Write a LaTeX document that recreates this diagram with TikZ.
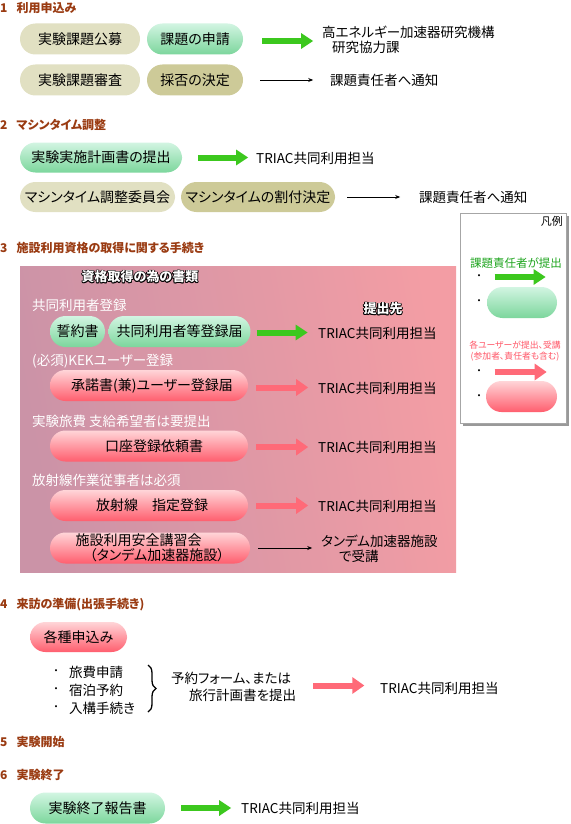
\documentclass[tikz,border=0pt]{standalone}
\usepackage{fontspec}
\setmainfont{Noto Sans CJK JP}[RawFeature=+palt]
\usetikzlibrary{arrows.meta,decorations.pathreplacing}
\definecolor{hbrown}{HTML}{9A3B12}
\definecolor{beige}{HTML}{E1E0C2}
\definecolor{olive}{HTML}{CDCA98}
\definecolor{gtop}{HTML}{D2F5E2}
\definecolor{gbot}{HTML}{7CD69C}
\definecolor{rtop}{HTML}{FFD5D8}
\definecolor{rbot}{HTML}{FF5E6E}
\definecolor{garrow}{HTML}{3CC81E}
\definecolor{rarrow}{HTML}{FF6A78}
\definecolor{pinkL}{HTML}{CB93A7}
\definecolor{pinkR}{HTML}{F39DA4}
\definecolor{leggreen}{HTML}{1FA51F}
\definecolor{legred}{HTML}{FF5566}
\newcommand{\outltxt}[3]{%
  \foreach \dx/\dy in {-0.8/0,0.8/0,0/-0.8,0/0.8,-0.6/-0.6,0.6/0.6,-0.6/0.6,0.6/-0.6}
    \node[outlab, text=black, xshift=\dx pt, yshift=\dy pt] at (#2) {#3};
  \node[outlab, text=white] (#1) at (#2) {#3};}
\begin{document}
\begin{tikzpicture}[x=1pt,y=-1pt,
 head/.style={anchor=west, inner sep=0pt, text=hbrown, font=\fontsize{12}{14}\selectfont\bfseries},
 txt/.style={anchor=west, inner sep=0pt, font=\fontsize{13.5}{15}\selectfont, align=left},
 wlab/.style={txt, text=white},
 pill/.style={rounded corners=15.5pt, minimum height=31pt, inner sep=0pt, font=\fontsize{14}{14}\selectfont, align=center},
 beigepill/.style={pill, fill=beige},
 olivepill/.style={pill, fill=olive},
 greenpill/.style={pill, top color=gtop, bottom color=gbot},
 redpill/.style={pill, top color=rtop, bottom color=rbot},
 garr/.style={draw=garrow, line width=6pt, -{Triangle[length=12pt,width=15pt]}},
 rarr/.style={draw=rarrow, line width=6pt, -{Triangle[length=12pt,width=16pt]}},
 karr/.style={draw=black, line width=0.8pt, -{Stealth[length=5pt,width=4pt]}},
 outlab/.style={inner sep=0pt, font=\fontsize{13}{15}\selectfont\bfseries},
 bul/.style={inner sep=0pt, font=\fontsize{10}{12}\selectfont},
]
\useasboundingbox (0,0) rectangle (570,824);
\fill[white] (0,0) rectangle (570,824);

% ---------- Section 1
\node[head] (h1) at (0,8) {1\hspace{9pt}利用申込み};
\node[beigepill, minimum width=120pt] (p11) at (80,39) {実験課題公募};
\node[greenpill, minimum width=96pt] (p12) at (195,39) {課題の申請};
\node[txt] (t11) at (322,40) {高エネルギー加速器研究機構\\\hspace{10pt}研究協力課};
\draw[garr] ([xshift=19pt,yshift=-2pt]p12.east) -- ([xshift=70pt,yshift=-2pt]p12.east) coordinate (e11);
\node[beigepill, minimum width=120pt] (p21) at (80,80) {実験課題審査};
\node[olivepill, minimum width=96pt] (p22) at (195,80) {採否の決定};
\node[txt] (t21) at (330,80) {課題責任者へ通知};
\draw[karr] ([xshift=17pt]p22.east) -- ([xshift=70pt]p22.east) coordinate (e21);

% ---------- Section 2
\node[head] (h2) at (0,125) {2\hspace{9pt}マシンタイム調整};
\node[greenpill, minimum width=162pt, minimum height=30pt] (p31) at (101,157.5) {実験実施計画書の提出};
\draw[garr] ([xshift=16pt]p31.east) -- ([xshift=66pt]p31.east) coordinate (e31);
\node[txt] (t31) at (256,158) {TRIAC共同利用担当};
\node[beigepill, minimum width=155pt, minimum height=30pt] (p32) at (97.5,197) {マシンタイム調整委員会};
\node[olivepill, minimum width=154pt, minimum height=30pt] (p33) at (258,197) {マシンタイムの割付決定};
\draw[karr] ([xshift=12pt]p33.east) -- ([xshift=65pt]p33.east) coordinate (e33);
\node[txt] (t33) at (419,197) {課題責任者へ通知};

% ---------- Legend
\fill[gray!80] (462.5,215.5) rectangle (568.5,425.5);
\draw[gray!70, fill=white] (460,213) rectangle (566,423);
\node[inner sep=0pt, anchor=north east, font=\fontsize{11}{12}\selectfont] (lg) at (563,216) {凡例};
\node[inner sep=0pt, text=leggreen, font=\fontsize{11.5}{12}\selectfont] (lgt) at (516,263) {課題責任者が提出};
\node[bul] (b1) at (479,277) {・};
\draw[garr] ([xshift=13pt]b1.east) -- ([xshift=64pt]b1.east) coordinate (eg1);
\node[bul] (b2) at (479,302) {・};
\node[greenpill, minimum width=70pt] (lgp) at (522,302.5) {};
\node[inner sep=0pt, text=legred, font=\fontsize{8.8}{11}\selectfont, align=center] (lrt) at (515,351) {各ユーザーが提出、受講\\(参加者、責任者も含む)};
\node[bul] (b3) at (479,372) {・};
\draw[rarr] ([xshift=13pt]b3.east) -- ([xshift=65pt]b3.east) coordinate (eg2);
\node[bul] (b4) at (479,397) {・};
\node[redpill, minimum width=71pt] (lrp) at (521.5,396.5) {};

% ---------- Section 3
\node[head] (h3) at (0,248) {3\hspace{9pt}施設利用資格の取得に関する手続き};
\shade[left color=pinkL, right color=pinkR, shading angle=100] (20,266) rectangle (456,572);
\outltxt{tt}{140,277}{資格取得の為の書類}
\node[wlab] (w1) at (32,305) {共同利用者登録};
\node[greenpill, minimum width=55pt] (p41) at (77.5,331.5) {誓約書};
\node[greenpill, minimum width=142pt] (p42) at (179.5,331.5) {共同利用者等登録届};
\draw[garr] ([xshift=6pt,yshift=-1pt]p42.east) -- ([xshift=57pt,yshift=-1pt]p42.east) coordinate (e42);
\outltxt{ts}{383,309}{提出先}
\node[txt] (t42) at (318,333) {TRIAC共同利用担当};

\node[wlab] (w2) at (32,361) {(必須)KEKユーザー登録};
\node[redpill, minimum width=198pt] (p43) at (149,385.5) {\hspace*{6pt}承諾書(兼)ユーザー登録届};
\draw[rarr] ([xshift=8pt,yshift=-2pt]p43.east) -- ([xshift=60pt,yshift=-2pt]p43.east) coordinate (e43);
\node[txt] (t43) at (318,388) {TRIAC共同利用担当};

\node[wlab] (w3) at (32,421) {実験旅費 支給希望者は要提出};
\node[redpill, minimum width=198pt] (p44) at (149,446) {\hspace*{10pt}口座登録依頼書};
\draw[rarr] ([xshift=8pt,yshift=-1pt]p44.east) -- ([xshift=60pt,yshift=-1pt]p44.east) coordinate (e44);
\node[txt] (t44) at (318,447) {TRIAC共同利用担当};

\node[wlab] (w4) at (32,480) {放射線作業従事者は必須};
\node[redpill, minimum width=198pt] (p45) at (149,505.5) {\hspace*{6pt}放射線　指定登録};
\draw[rarr] ([xshift=8pt]p45.east) -- ([xshift=60pt]p45.east) coordinate (e45);
\node[txt] (t45) at (318,506) {TRIAC共同利用担当};

\node[redpill, minimum width=200pt, align=left, font=\fontsize{14}{14.5}\selectfont] (p46) at (150,548) {施設利用安全講習会\\\hspace*{14pt}（タンデム加速器施設）};
\draw[karr] ([xshift=8pt]p46.east) -- ([xshift=62pt]p46.east) coordinate (e46);
\node[txt, font=\fontsize{13.5}{14.5}\selectfont] (t46) at (321,549) {タンデム加速器施設\\\hspace{18pt}で受講};

% ---------- Section 4
\node[head] (h4) at (0,605) {4\hspace{9pt}来訪の準備(出張手続き)};
\node[redpill, minimum width=97pt, minimum height=30pt] (p5) at (78.5,637) {各種申込み};
\node[bul] (c1) at (56,672) {・};
\node[txt] (l1) at (69,672) {旅費申請};
\node[bul] (c2) at (56,690) {・};
\node[txt] (l2) at (69,690) {宿泊予約};
\node[bul] (c3) at (56,708) {・};
\node[txt] (l3) at (69,708) {入構手続き};
\coordinate (br1) at (148,665);
\coordinate (br2) at (148,712);
\draw[line width=1.3pt, decorate, decoration={brace, amplitude=8pt}] (br1) -- (br2);
\node[txt, font=\fontsize{13.5}{17}\selectfont] (t5) at (171,686.5) {予約フォーム、または\\\hspace{18pt}旅行計画書を提出};
\draw[rarr] ([xshift=17pt,yshift=1pt]t5.east) -- ([xshift=68pt,yshift=1pt]t5.east) coordinate (e5);
\node[txt] (t5b) at (380,688) {TRIAC共同利用担当};

% ---------- Section 5, 6
\node[head] (h5) at (0,742) {5\hspace{9pt}実験開始};
\node[head] (h6) at (0,775) {6\hspace{9pt}実験終了};
\node[greenpill, minimum width=135pt] (p6) at (97.5,808) {実験終了報告書};
\draw[garr] ([xshift=16pt]p6.east) -- ([xshift=66pt]p6.east) coordinate (e6);
\node[txt] (t6) at (241,808) {TRIAC共同利用担当};
\end{tikzpicture}
\end{document}
